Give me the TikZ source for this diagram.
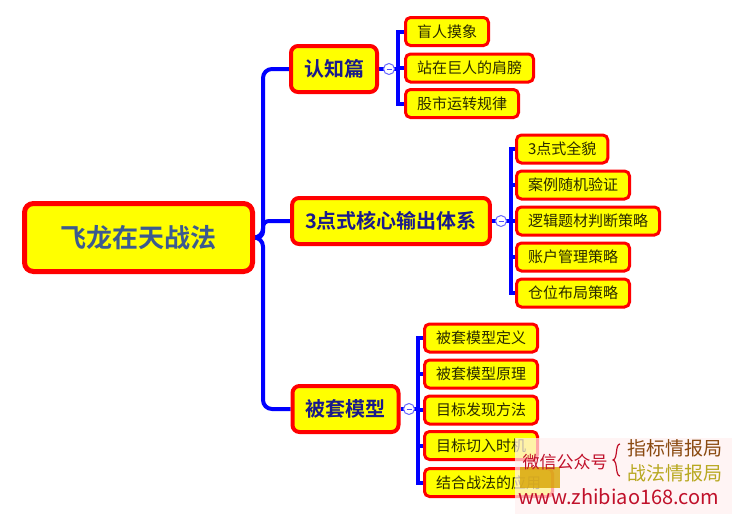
\documentclass[tikz,border=0pt]{standalone}
\usepackage{fontspec}
\usetikzlibrary{backgrounds}
\setmainfont{Noto Sans CJK SC}
\newfontfamily\cjk{Noto Sans CJK SC}
\newfontfamily\cjkb{Noto Sans CJK SC Bold}
\definecolor{boxred}{HTML}{FF0000}
\definecolor{boxyel}{HTML}{FFFF00}
\definecolor{linkblue}{HTML}{0000FF}
\definecolor{roottext}{HTML}{3B5A90}
\definecolor{branchtext}{HTML}{1A1A8C}
\definecolor{leaftext}{HTML}{2A2A00}
\definecolor{wmred}{HTML}{C0102A}
\definecolor{wmbrown}{HTML}{8A4A10}
\definecolor{wmolive}{HTML}{B8A820}
\definecolor{wmblob}{HTML}{D8A400}
\tikzset{
  rootbox/.style={draw=boxred, fill=boxyel, line width=5pt, rounded corners=9pt,
    minimum width=228pt, minimum height=68pt, inner sep=0pt,
    font=\cjkb\fontsize{26}{26}\selectfont, text=roottext},
  branchbox/.style={draw=boxred, fill=boxyel, line width=4pt, rounded corners=7pt,
    minimum height=46pt, inner xsep=13pt, inner ysep=0pt,
    font=\cjkb\fontsize{20}{20}\selectfont, text=branchtext},
  leafbox/.style={draw=boxred, fill=boxyel, line width=3pt, rounded corners=5pt,
    minimum height=28pt, inner xsep=11.5pt, inner ysep=0pt, anchor=west,
    font=\cjk\fontsize{15}{15}\selectfont, text=leaftext},
  conn/.style={draw=linkblue, line width=4pt},
  knob/.style={circle, draw=linkblue!60, fill=white, line width=1pt,
    minimum size=11pt, inner sep=0pt,
    path picture={\draw[linkblue!70, line width=1pt]
      ([xshift=-2.5pt]path picture bounding box.center) -- ([xshift=2.5pt]path picture bounding box.center);}},
}
\begin{document}
\begin{tikzpicture}[x=1pt, y=-1pt]
\useasboundingbox (0,0) rectangle (732,514);

% main nodes
\node[rootbox] (root) at (138.5,237.5) {飞龙在天战法};
\node[branchbox] (b1) at (334,69) {认知篇};
\node[branchbox] (b2) at (391,221) {3点式核心输出体系};
\node[branchbox] (b3) at (345.5,409) {被套模型};

% leaves
\node[leafbox] (l11) at (404,31.5) {盲人摸象};
\node[leafbox] (l12) at (404,68) {站在巨人的肩膀};
\node[leafbox] (l13) at (404,103.5) {股市运转规律};

\node[leafbox] (l21) at (515,149) {3点式全貌};
\node[leafbox] (l22) at (515,185) {案例随机验证};
\node[leafbox] (l23) at (515,221) {逻辑题材判断策略};
\node[leafbox] (l24) at (515,257) {账户管理策略};
\node[leafbox] (l25) at (515,293) {仓位布局策略};

\node[leafbox] (l31) at (423,338) {被套模型定义};
\node[leafbox] (l32) at (423,374) {被套模型原理};
\node[leafbox] (l33) at (423,410) {目标发现方法};
\node[leafbox] (l34) at (423,445.5) {目标切入时机};
\node[leafbox] (l35) at (423,482.5) {结合战法的应用};

\coordinate (t0) at ([xshift=8pt]root.east);
\coordinate (s1) at (398,69);
\coordinate (s2) at (511,221);
\coordinate (s3) at (418,409);

\begin{pgfonlayer}{background}
% trunk connectors
\draw[conn, rounded corners=9pt] (root.east) -- (t0) |- (b1.west);
\draw[conn, rounded corners=9pt] (root.east) -- (t0) |- (b3.west);
\draw[conn, rounded corners=6pt] (root.east) -- (t0) |- (b2.west);
% sub connectors
\draw[conn] (b1.east) -- (s1);
\foreach \l in {l11,l12,l13} \draw[conn] (s1) |- (\l.west);
\draw[conn] (b2.east) -- (s2);
\foreach \l in {l21,l22,l23,l24,l25} \draw[conn] (s2) |- (\l.west);
\draw[conn] (b3.east) -- (s3);
\foreach \l in {l31,l32,l33,l34,l35} \draw[conn] (s3) |- (\l.west);
\end{pgfonlayer}

\node[knob] (k1) at (389,69) {};
\node[knob] (k2) at (501,221) {};
\node[knob] (k3) at (409,409) {};

% watermark
\fill[pink!25, opacity=0.7] (515,438) rectangle (732,514);
\fill[wmblob, opacity=0.8] (520,467) rectangle (560,488);
\node[font=\cjk\fontsize{17}{17}\selectfont, text=wmred] (wm1) at (565,462) {微信公众号};
\node[font=\cjk\fontsize{19}{19}\selectfont, text=wmbrown] (wm2) at (675,448) {指标情报局};
\node[font=\cjk\fontsize{19}{19}\selectfont, text=wmolive] (wm3) at (675,473) {战法情报局};
\draw[wmred, line width=1.2pt] (620,444) .. controls (615,444) and (618,459) .. (613,460)
  .. controls (618,461) and (615,476) .. (620,476);
\node[font=\cjk\fontsize{20}{20}\selectfont, text=wmred] (wm4) at (619,497) {www.zhibiao168.com};
\end{tikzpicture}
\end{document}
